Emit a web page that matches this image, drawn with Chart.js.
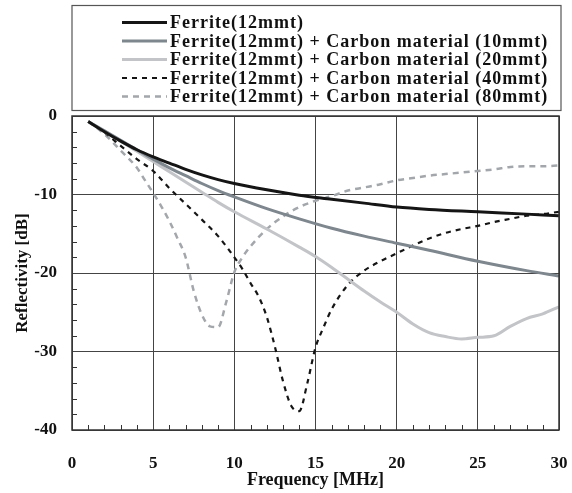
<!DOCTYPE html>
<html>
<head>
<meta charset="utf-8">
<script src="https://cdn.jsdelivr.net/npm/chart.js@4"></script>
<style>
  html, body { margin: 0; padding: 0; background: #fff; }
</style>
</head>
<body>
<canvas id="reflChart" width="572" height="493"></canvas>
<script>
const seriesNames = [
    "Ferrite(12mmt)",
    "Ferrite(12mmt) + Carbon material (10mmt)",
    "Ferrite(12mmt) + Carbon material (20mmt)",
    "Ferrite(12mmt) + Carbon material (40mmt)",
    "Ferrite(12mmt) + Carbon material (80mmt)"
];

// Frequency [MHz] / Reflectivity [dB]
const freqFerrite = [1, 2, 3, 4, 5, 6, 7, 8, 9, 10, 12, 14, 16, 18, 20, 22, 25, 28, 30];
const reflFerrite = [-0.7, -2.0, -3.2, -4.3, -5.2, -6.0, -6.8, -7.5, -8.1, -8.6, -9.4, -10.1, -10.6, -11.1, -11.6, -11.9, -12.2, -12.5, -12.7];

const freqC10 = [1, 2, 3, 4, 5, 6, 7, 8, 9, 10, 12, 14, 16, 18, 20, 22, 25, 28, 30];
const reflC10 = [-0.7, -1.9, -3.1, -4.3, -5.5, -6.6, -7.6, -8.6, -9.5, -10.3, -11.8, -13.1, -14.3, -15.3, -16.2, -17.1, -18.5, -19.7, -20.4];

const freqC20 = [1, 2, 3, 4, 5, 6, 7, 8, 9, 10, 12, 14, 15, 16, 17, 18, 19, 20, 21, 22, 23, 24, 25, 26, 27, 28, 29, 30];
const reflC20 = [-0.7, -2.0, -3.2, -4.5, -5.8, -7.1, -8.4, -9.7, -11.0, -12.2, -14.4, -16.7, -17.9, -19.3, -20.8, -22.3, -23.7, -25.0, -26.5, -27.6, -28.1, -28.4, -28.2, -28.0, -26.8, -25.8, -25.2, -24.3];

const freqC40 = [1, 2, 3, 4, 5, 6, 7, 8, 9, 10, 10.5, 11, 11.5, 12, 12.5, 13, 13.5, 14, 14.5, 15, 15.5, 16, 17, 18, 19, 20, 21, 22, 23, 24, 25, 26, 27, 28, 29, 30];
const reflC40 = [-0.7, -2.1, -3.8, -5.5, -7.0, -9.2, -11.2, -13.2, -15.3, -18.0, -19.5, -21.3, -23.0, -25.6, -29.4, -33.8, -36.9, -37.6, -34.0, -29.5, -26.9, -24.6, -21.5, -19.7, -18.5, -17.5, -16.5, -15.6, -14.9, -14.4, -14.0, -13.5, -13.1, -12.7, -12.5, -12.2];

const freqC80 = [1, 2, 3, 4, 4.5, 5, 5.5, 6, 6.5, 7, 7.5, 8, 8.5, 9, 9.5, 10, 10.5, 11, 12, 13, 14, 15, 16, 17, 18, 19, 20, 21, 22, 23, 24, 25, 26, 27, 28, 29, 30];
const reflC80 = [-0.7, -2.3, -4.4, -6.6, -8.2, -9.8, -11.5, -13.4, -15.6, -18.0, -22.3, -25.3, -26.8, -26.9, -23.7, -19.9, -18.0, -16.6, -14.4, -12.8, -11.6, -10.8, -10.2, -9.5, -9.1, -8.7, -8.2, -7.9, -7.6, -7.4, -7.2, -7.0, -6.8, -6.5, -6.4, -6.4, -6.3];

const xTicks = [0, 5, 10, 15, 20, 25, 30];
const yTicks = [0, -10, -20, -30, -40];

const serif = "'Liberation Serif', 'Times New Roman', serif";

function points(xs, ys) {
    return xs.map((x, i) => ({ x: x, y: ys[i] }));
}

// frame, inward minor ticks and the boxed legend
const framePlugin = {
    id: "frame",
    afterDraw(chart) {
        const { ctx, chartArea: a, scales } = chart;
        const x = scales.x, y = scales.y;
        ctx.save();
        ctx.strokeStyle = "#333";
        ctx.lineWidth = 1.5;
        ctx.strokeRect(a.left, a.top, a.right - a.left, a.bottom - a.top);

        ctx.lineWidth = 1;
        ctx.beginPath();
        for (let f = 1; f < 30; f++) {
            if (f % 5 === 0) continue;
            const px = Math.round(x.getPixelForValue(f)) + 0.5;
            ctx.moveTo(px, a.bottom);
            ctx.lineTo(px, a.bottom - 5);
        }
        for (let d = -38; d < 0; d += 2) {
            if (d % 10 === 0) continue;
            const py = Math.round(y.getPixelForValue(d)) + 0.5;
            ctx.moveTo(a.left, py);
            ctx.lineTo(a.left + 5, py);
        }
        ctx.stroke();

        // legend box
        ctx.strokeStyle = "#555";
        ctx.lineWidth = 1.2;
        ctx.strokeRect(72, 5.5, 489, 105);
        ctx.font = "bold 18px " + serif;
        ctx.letterSpacing = "1px";
        ctx.textBaseline = "middle";
        ctx.fillStyle = "#111";
        chart.data.datasets.forEach((ds, i) => {
            const ry = 22.5 + i * 18.5;
            ctx.save();
            ctx.strokeStyle = ds.borderColor;
            ctx.lineWidth = ds.borderWidth;
            ctx.setLineDash(ds.borderDash || []);
            ctx.beginPath();
            ctx.moveTo(122, ry);
            ctx.lineTo(167, ry);
            ctx.stroke();
            ctx.restore();
            ctx.fillText(ds.label, 170, ry + 1);
        });
        ctx.restore();
    }
};

const ctx = document.getElementById("reflChart").getContext("2d");

new Chart(ctx, {
    type: "line",
    data: {
        datasets: [
            {
                label: seriesNames[0],
                data: points(freqFerrite, reflFerrite),
                borderColor: "#151515",
                borderWidth: 3
            },
            {
                label: seriesNames[1],
                data: points(freqC10, reflC10),
                borderColor: "#7e878e",
                borderWidth: 3
            },
            {
                label: seriesNames[2],
                data: points(freqC20, reflC20),
                borderColor: "#c2c4c7",
                borderWidth: 3
            },
            {
                label: seriesNames[3],
                data: points(freqC40, reflC40),
                borderColor: "#151515",
                borderWidth: 2.2,
                borderDash: [5, 5]
            },
            {
                label: seriesNames[4],
                data: points(freqC80, reflC80),
                borderColor: "#a3a7ab",
                borderWidth: 2.5,
                borderDash: [6, 5]
            }
        ]
    },
    options: {
        responsive: false,
        animation: false,
        layout: {
            padding: { left: 0, right: 13, top: 116, bottom: 0 }
        },
        elements: {
            point: { radius: 0 },
            line: { tension: 0.4, cubicInterpolationMode: "monotone", fill: false }
        },
        plugins: {
            legend: { display: false },
            tooltip: { enabled: false }
        },
        scales: {
            x: {
                type: "linear",
                min: 0,
                max: 30,
                afterFit: scale => {
                    scale.height = 63;
                    scale.paddingLeft = 0;
                    scale.paddingRight = 0;
                },
                afterBuildTicks: scale => { scale.ticks = xTicks.map(v => ({ value: v })); },
                grid: { color: "#444", lineWidth: 1, drawTicks: false },
                border: { display: false },
                ticks: {
                    padding: 23,
                    color: "#111",
                    font: { family: serif, size: 17, weight: "bold" }
                },
                title: {
                    display: true,
                    text: "Frequency [MHz]",
                    color: "#111",
                    padding: { top: 0, bottom: 2 },
                    font: { family: serif, size: 18, weight: "bold" }
                }
            },
            y: {
                min: -40,
                max: 0,
                afterFit: scale => {
                    scale.width = 72;
                    scale.paddingTop = 0;
                    scale.paddingBottom = 0;
                },
                afterBuildTicks: scale => { scale.ticks = yTicks.map(v => ({ value: v })); },
                grid: { color: "#444", lineWidth: 1, drawTicks: false },
                border: { display: false },
                ticks: {
                    padding: 15,
                    color: "#111",
                    font: { family: serif, size: 17, weight: "bold" }
                },
                title: {
                    display: true,
                    text: "Reflectivity [dB]",
                    color: "#111",
                    padding: { top: 12, bottom: 0 },
                    font: { family: serif, size: 17, weight: "bold" }
                }
            }
        }
    },
    plugins: [framePlugin]
});
</script>
</body>
</html>
